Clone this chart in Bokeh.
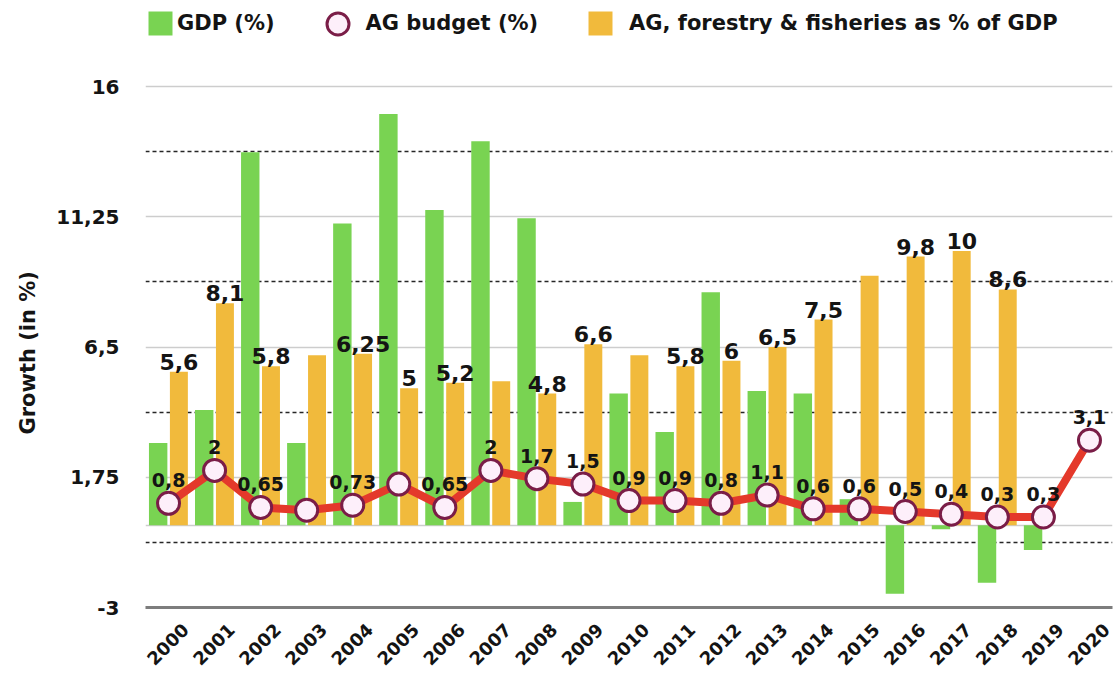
import math
from bokeh.plotting import figure
from bokeh.models import (ColumnDataSource, Range1d, LinearAxis, FixedTicker,
                          CustomJSTickFormatter, Grid, Legend, LegendItem, Title)
from bokeh.transform import dodge
from bokeh.embed import file_html
from bokeh.resources import INLINE
from bokeh.core.properties import value

# ---------------- data ----------------
years = list(range(2000, 2021))

gdp_years = list(range(2000, 2020))
gdp_growth = [3.0, 4.2, 13.6, 3.0, 11.0, 15.0, 11.5, 14.0, 11.2, 0.85,
              4.8, 3.4, 8.5, 4.9, 4.8, 0.95, -2.5, -0.15, -2.1, -0.9]

ag_years = list(range(2000, 2019))
ag_share = [5.6, 8.1, 5.8, 6.2, 6.25, 5.0, 5.2, 5.25, 4.8, 6.6,
            6.2, 5.8, 6.0, 6.5, 7.5, 9.1, 9.8, 10.0, 8.6]
ag_share_labeled = [True, True, True, False, True, True, True, False, True, True,
                    False, True, True, True, True, False, True, True, True]

budget = [0.8, 2.0, 0.65, 0.55, 0.73, 1.5, 0.65, 2.0, 1.7, 1.5,
          0.9, 0.9, 0.8, 1.1, 0.6, 0.6, 0.5, 0.4, 0.3, 0.3, 3.1]
budget_labeled = [True, True, True, False, True, False, True, True, True, True,
                  True, True, True, True, True, True, True, True, True, True, True]

y_ticks = [-3, 1.75, 6.5, 11.25, 16]

series_names = ["GDP (%)", "AG budget (%)", "AG, forestry & fisheries as % of GDP"]
y_title = "Growth (in %)"

# ---------------- styles ----------------
GREEN = "#79d352"
ORANGE = "#f1ba3c"
RED = "#e4392b"
MAROON = "#7a1d47"
PINK = "#fdeffa"
TXT = "#141414"
FONT = "DejaVu Sans"
Y_TOP = 19.137          # extra headroom above the last tick holds the legend


def fmt(v):
    return f"{v:g}".replace(".", ",")


gdp_src = ColumnDataSource(dict(year=gdp_years, v=gdp_growth))
ag_src = ColumnDataSource(dict(year=ag_years, v=ag_share))
bud_src = ColumnDataSource(dict(year=years, v=budget))
ag_lab_src = ColumnDataSource(dict(
    year=[y for y, k in zip(ag_years, ag_share_labeled) if k],
    v=[v for v, k in zip(ag_share, ag_share_labeled) if k],
    t=[fmt(v) for v, k in zip(ag_share, ag_share_labeled) if k]))
bud_lab_src = ColumnDataSource(dict(
    year=[y for y, k in zip(years, budget_labeled) if k],
    v=[v for v, k in zip(budget, budget_labeled) if k],
    t=[fmt(v) for v, k in zip(budget, budget_labeled) if k]))

p = figure(width=1115, height=676,
           x_range=Range1d(years[0] - 0.5, years[-1] + 0.5),
           y_range=Range1d(y_ticks[0], Y_TOP),
           output_backend="svg", toolbar_location=None,
           x_axis_location=None,
           min_border_left=145, min_border_right=3,
           min_border_top=0, min_border_bottom=69)
p.outline_line_color = None
p.background_fill_color = "white"
p.xgrid.visible = False

# y axis
yax = p.yaxis[0]
yax.ticker = FixedTicker(ticks=y_ticks)
yax.formatter = CustomJSTickFormatter(code="return tick.toString().replace('.', ',');")
yax.axis_line_color = None
yax.major_tick_line_color = None
yax.minor_tick_line_color = None
yax.major_tick_out = 0
yax.major_label_standoff = 26
yax.major_label_text_font = FONT
yax.major_label_text_font_style = "bold"
yax.major_label_text_font_size = "20px"
yax.major_label_text_color = TXT

# y axis title, centred on the tick span rather than the whole frame
p.add_layout(Title(text=y_title, align="left", offset=173, standoff=26,
                   vertical_align="middle",
                   text_font=FONT, text_font_style="bold",
                   text_font_size="21px", text_color=TXT), "left")

# solid grid at tick values and zero
p.ygrid.ticker = FixedTicker(ticks=[0] + y_ticks[1:])
p.ygrid.grid_line_color = "#cdcdcd"
p.ygrid.grid_line_width = 1.6
# dashed grid at midpoints
mids = [(a + b) / 2 for a, b in zip(y_ticks, y_ticks[1:])]
p.add_layout(Grid(dimension=1, ticker=FixedTicker(ticks=mids),
                  grid_line_color="#262626", grid_line_dash="4 3",
                  grid_line_width=1.4))

# x label axis (shifted so rotated labels sit centred on each year)
shift = 0.37
p.extra_x_ranges = {"lab": Range1d(years[0] - 0.5 - shift, years[-1] + 0.5 - shift)}
xax = LinearAxis(x_range_name="lab", ticker=FixedTicker(ticks=years),
                 major_label_orientation=math.pi / 4)
xax.axis_line_color = "#7d7d7d"
xax.axis_line_width = 3
xax.major_tick_line_color = None
xax.minor_tick_line_color = None
xax.major_tick_out = 0
xax.major_tick_in = 0
xax.major_label_standoff = 19
xax.major_label_text_font = FONT
xax.major_label_text_font_style = "bold"
xax.major_label_text_font_size = "18px"
xax.major_label_text_color = TXT
p.add_layout(xax, "below")

# bars
r_gdp = p.vbar(x=dodge("year", -0.225), top="v", bottom=0, width=0.40,
               source=gdp_src, fill_color=GREEN, line_color=None)
r_ag = p.vbar(x=dodge("year", 0.225), top="v", bottom=0, width=0.39,
              source=ag_src, fill_color=ORANGE, line_color=None)

# budget line
p.line(x="year", y="v", source=bud_src, line_color=RED, line_width=8,
       line_join="round")
r_bud = p.scatter(x="year", y="v", source=bud_src, size=22, marker="circle",
                  fill_color=PINK, line_color=MAROON, line_width=3)

# value labels
p.text(x=dodge("year", 0.225), y="v", text="t", source=ag_lab_src,
       text_font=value(FONT), text_font_style="bold", text_font_size="22px",
       text_align="center", text_baseline="alphabetic", y_offset=-10,
       text_color=TXT)
p.text(x="year", y="v", text="t", source=bud_lab_src,
       text_font=value(FONT), text_font_style="bold", text_font_size="19px",
       text_align="center", text_baseline="alphabetic", y_offset=-23,
       text_color=TXT)


def make_legend(item, loc, glyph, standoff):
    lg = Legend(items=[item], location=loc, orientation="horizontal",
                glyph_width=glyph, glyph_height=glyph, label_standoff=standoff,
                padding=0, margin=0, spacing=0,
                border_line_color=None, background_fill_alpha=0,
                label_text_font=FONT, label_text_font_style="bold",
                label_text_font_size="21px", label_text_color=TXT)
    p.add_layout(lg)


make_legend(LegendItem(label=series_names[0], renderers=[r_gdp]), (0, 569), 30, 2)
make_legend(LegendItem(label=series_names[1], renderers=[r_bud]), (164.5, 556.5), 55, 1)
make_legend(LegendItem(label=series_names[2], renderers=[r_ag]), (440, 569), 30, 14)

open("out.html", "w").write(file_html(p, INLINE))
